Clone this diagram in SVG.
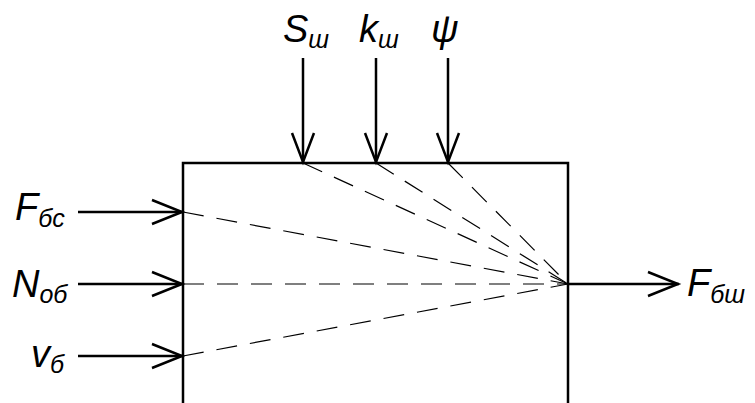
<svg xmlns="http://www.w3.org/2000/svg" width="755" height="403" viewBox="0 0 755 403">
<style>
.ln{stroke:#000;stroke-width:2.5;fill:none}
.ah{stroke:#000;stroke-width:2.5;fill:none;stroke-linejoin:miter}
.d{stroke:#000;stroke-width:1.2;stroke-dasharray:21 13;fill:none}
.t{font-family:"Liberation Sans",Arial,sans-serif;font-style:italic;fill:#000}
.m{font-size:38px}
.s{font-size:25px}
</style>
<rect width="755" height="403" fill="#fff"/>
<g id="block">
<path class="ln" d="M183,403 V163 H568 V403"/>
</g>
<g id="connectors">
<path class="d" d="M303,163 L568,284"/>
<path class="d" d="M376,163 L568,284"/>
<path class="d" d="M448,163 L568,284"/>
<path class="d" d="M183,212 L568,284"/>
<path class="d" d="M183,284 L568,284"/>
<path class="d" d="M183,356 L568,284"/>
<path class="ln" d="M303,58 V163"/>
<path class="ah" d="M292,133 L303,162 L314,133"/>
<path class="ln" d="M376,58 V163"/>
<path class="ah" d="M365,133 L376,162 L387,133"/>
<path class="ln" d="M448,58 V163"/>
<path class="ah" d="M437,133 L448,162 L459,133"/>
<path class="ln" d="M78,212 H183"/>
<path class="ah" d="M152,200 L182,212 L152,224"/>
<path class="ln" d="M78,284 H183"/>
<path class="ah" d="M152,272 L182,284 L152,296"/>
<path class="ln" d="M78,356 H183"/>
<path class="ah" d="M152,344 L182,356 L152,368"/>
<path class="ln" d="M568,284 H679"/>
<path class="ah" d="M648,272 L678,284 L648,296"/>
</g>
<g id="label-Sw"><text class="t" x="283" y="42"><tspan class="m">S</tspan><tspan class="s" dy="6">ш</tspan></text></g>
<g id="label-kw"><text class="t" x="359" y="42"><tspan class="m">k</tspan><tspan class="s" dy="6">ш</tspan></text></g>
<g id="label-psi"><text class="t m" x="431" y="42">ψ</text></g>
<g id="label-Fbc"><text class="t" x="15" y="220"><tspan class="m">F</tspan><tspan class="s" dy="7">бс</tspan></text></g>
<g id="label-Nob"><text class="t" x="12" y="297"><tspan class="m">N</tspan><tspan class="s" dy="6">об</tspan></text></g>
<g id="label-vb"><text class="t" x="31" y="367"><tspan class="m">v</tspan><tspan class="s" dy="6">б</tspan></text></g>
<g id="label-Fbw"><text class="t" x="687" y="296"><tspan class="m">F</tspan><tspan class="s" dy="7">бш</tspan></text></g>
</svg>
